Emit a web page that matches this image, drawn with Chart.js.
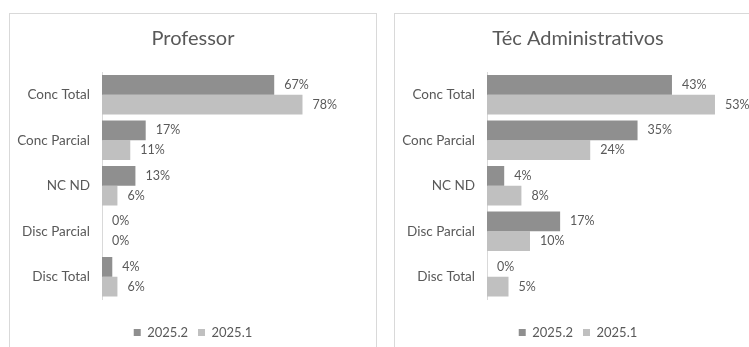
<!DOCTYPE html>
<html>
<head>
<meta charset="utf-8">
<script src="https://cdn.jsdelivr.net/npm/chart.js@4"></script>
<style>
  html, body { margin: 0; padding: 0; background: #fff; overflow: hidden; }
  body { width: 749px; height: 347px; position: relative; }
  .panel { position: absolute; top: 13px; width: 368px; height: 345px; border: 1px solid #d9d9d9; box-sizing: border-box; background: #fff; overflow: hidden; }
  .panel canvas { position: absolute; left: 0; top: 0; }
</style>
</head>
<body>
<div class="panel" style="left:9px"><canvas id="chartProfessor"></canvas></div>
<div class="panel" style="left:394px"><canvas id="chartTecnicos"></canvas></div>
<script>
const categorias = ["Conc Total", "Conc Parcial", "NC ND", "Disc Parcial", "Disc Total"];
const series = ["2025.2", "2025.1"];

const professor2025_2 = [67, 17, 13, 0, 4];
const professor2025_1 = [78, 11, 6, 0, 6];

const tecnicos2025_2 = [43, 35, 4, 17, 0];
const tecnicos2025_1 = [53, 24, 8, 10, 5];

const corEscura = "#8f8f8f";
const corClara = "#c0c0c0";
const corTexto = "#595959";
const fonte = "Lato, 'Open Sans', sans-serif";

// escreve o valor de cada barra logo depois do fim dela
const rotulosPlugin = {
    id: "rotulos",
    afterDatasetsDraw(chart) {
        const ctx = chart.ctx;
        ctx.save();
        ctx.font = "12.5px " + fonte;
        ctx.fillStyle = corTexto;
        ctx.textBaseline = "middle";
        ctx.textAlign = "left";
        chart.data.datasets.forEach((ds, i) => {
            chart.getDatasetMeta(i).data.forEach((bar, j) => {
                ctx.fillText(ds.data[j] + "%", bar.x + 10, bar.y);
            });
        });
        ctx.restore();
    }
};

function criarGrafico(id, titulo, dados2, dados1, maxX) {
    const ctx = document.getElementById(id).getContext("2d");
    return new Chart(ctx, {
        type: "bar",
        data: {
            labels: categorias,
            datasets: [
                { label: series[0], data: dados2, backgroundColor: corEscura },
                { label: series[1], data: dados1, backgroundColor: corClara }
            ]
        },
        options: {
            indexAxis: "y",
            responsive: false,
            animation: false,
            datasets: { bar: { barPercentage: 1, categoryPercentage: 0.87 } },
            layout: { padding: { top: 0, right: 0, bottom: 8, left: 0 } },
            scales: {
                x: {
                    min: 0,
                    max: maxX,
                    grid: { display: false },
                    border: { display: false },
                    ticks: { display: false },
                    // espaço vazio entre as barras e a legenda
                    afterFit(scale) { scale.height = 16.5; }
                },
                y: {
                    grid: { display: false, drawTicks: false },
                    border: { color: "#d9d9d9" },
                    ticks: { color: corTexto, font: { family: fonte, size: 13.5 }, padding: 12 },
                    afterFit(scale) { scale.width = 92; }
                }
            },
            plugins: {
                title: {
                    display: true,
                    text: titulo,
                    color: corTexto,
                    font: { family: fonte, size: 20, weight: "normal" },
                    padding: { top: 13, bottom: 21 }
                },
                legend: {
                    position: "bottom",
                    labels: {
                        color: corTexto,
                        font: { family: fonte, size: 13 },
                        boxWidth: 7,
                        boxHeight: 7,
                        padding: 10
                    }
                },
                tooltip: { enabled: false }
            }
        },
        plugins: [rotulosPlugin]
    });
}

function tamanho(id) {
    const c = document.getElementById(id);
    c.width = 366;
    c.height = 343;
}
tamanho("chartProfessor");
tamanho("chartTecnicos");

// eixo x sem marcas: o máximo só define a escala das barras
criarGrafico("chartProfessor", "Professor", professor2025_2, professor2025_1, 106.6);
criarGrafico("chartTecnicos", "Téc Administrativos", tecnicos2025_2, tecnicos2025_1, 63.7);
</script>
</body>
</html>
